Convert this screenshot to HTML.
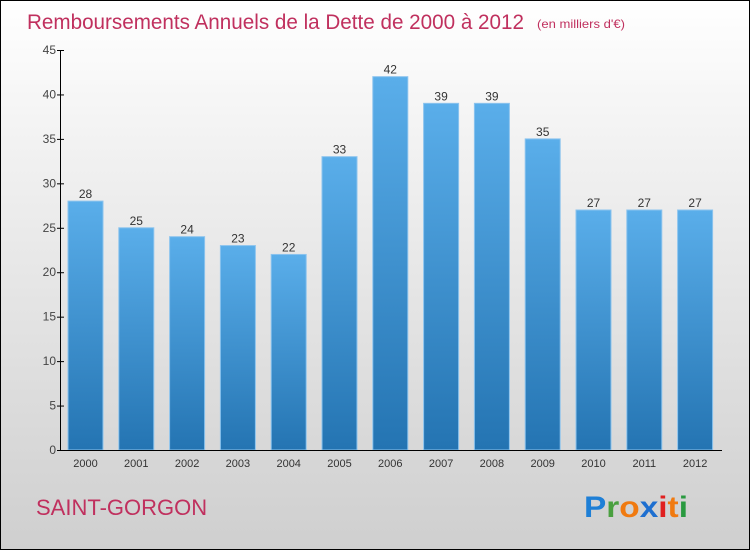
<!DOCTYPE html>
<html><head><meta charset="utf-8"><style>
body{margin:0}
#c{position:relative;width:748px;height:548px;border:1px solid #000;background:linear-gradient(#fff,#f0f0f0 30%,#d6d6d6 85%,#cfcfcf);font-family:"Liberation Sans",sans-serif;overflow:hidden}
svg{position:absolute;left:0;top:0}
</style></head><body>
<div id="c">
<svg width="748" height="548" id="s">
<text x="26" y="28" font-size="21" fill="#c0305e" textLength="497" lengthAdjust="spacingAndGlyphs">Remboursements Annuels de la Dette de 2000 à 2012</text>
<text x="536" y="27" font-size="12" fill="#c0305e" textLength="88" lengthAdjust="spacingAndGlyphs">(en milliers d'€)</text>
<text x="35" y="514" font-size="22" fill="#c0305e">SAINT-GORGON</text>
<g font-size="30" font-weight="bold" font-family="'Liberation Sans',sans-serif">
<text x="583" y="516" textLength="104" lengthAdjust="spacingAndGlyphs"><tspan fill="#1e7fd6">P</tspan><tspan fill="#4aa040">r</tspan><tspan fill="#f07a10">o</tspan><tspan fill="#1e6fd0">x</tspan><tspan fill="#e02020">i</tspan><tspan fill="#f07a10">t</tspan><tspan fill="#2a9a40">i</tspan></text></g>
<defs><linearGradient id="g" x1="0" y1="0" x2="0" y2="1"><stop offset="0" stop-color="#5aaeea"/><stop offset="1" stop-color="#2474b2"/></linearGradient></defs>
<g id="bars"></g><g id="axes"></g>
</svg></div>
<script>
const categories=["2000","2001","2002","2003","2004","2005","2006","2007","2008","2009","2010","2011","2012"];
const values=[28,25,24,23,22,33,42,39,39,35,27,27,27];
const yTicks=[0,5,10,15,20,25,30,35,40,45];
const NS="http://www.w3.org/2000/svg";
const y=v=>449-v*(400/45);
const x=i=>84.5+i*50.8;
function mk(t,a,p){const e=document.createElementNS(NS,t);for(const k in a)e.setAttribute(k,a[k]);p.appendChild(e);return e;}
const B=document.getElementById('bars'),A=document.getElementById('axes');
values.forEach((v,i)=>{
 const r=mk('rect',{x:x(i)-17.5,y:y(v),width:35,height:y(0)-y(v),fill:'url(#g)',stroke:'#8cc4ee','stroke-width':1},B);
 
 
 const t=mk('text',{x:x(i),y:y(v)-3,'text-anchor':'middle','font-size':12,fill:'#333'},B);t.textContent=v;
 
 
 const c=mk('text',{x:x(i),y:466,'text-anchor':'middle','font-size':11,fill:'#333'},A);c.textContent=categories[i];
 
 
});
const ya=mk('line',{x1:59.5,y1:y(45),x2:59.5,y2:y(0)+0.5,stroke:'#000'},A);


const xa=mk('line',{x1:59.5,y1:y(0)+0.5,x2:721,y2:y(0)+0.5,stroke:'#000'},A);


yTicks.forEach(v=>{
 mk('line',{x1:56,x2:63,y1:y(v)+0.5,y2:y(v)+0.5,stroke:'#000'},A);
 const t=mk('text',{x:55,y:y(v)+4,'text-anchor':'end','font-size':12,fill:'#444'},A);t.textContent=v;
 
 
});
</script>
</body></html>
